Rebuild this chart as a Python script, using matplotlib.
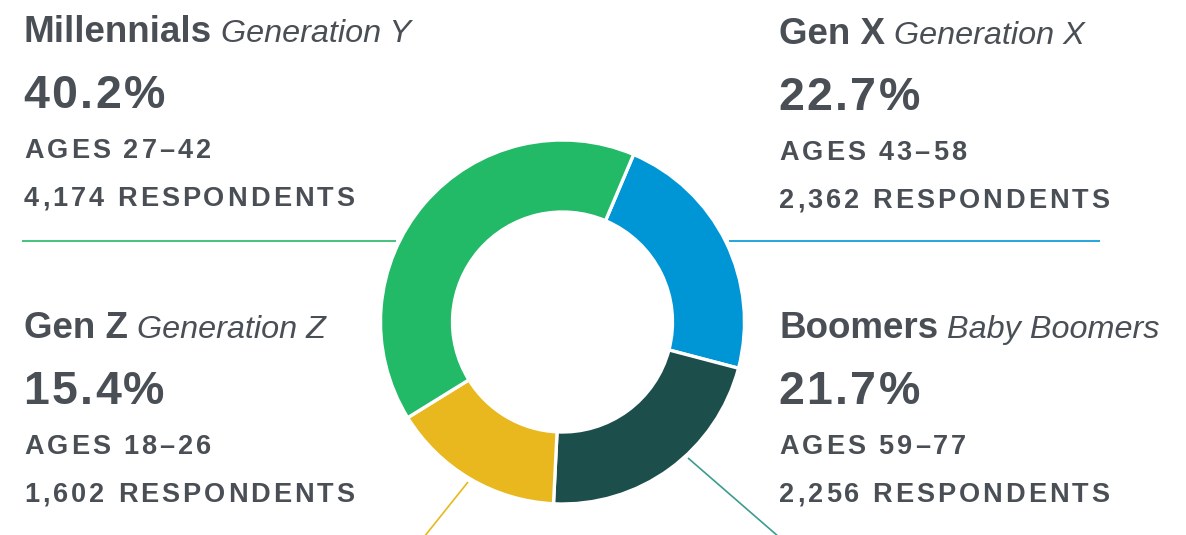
import matplotlib
matplotlib.use('Agg')
import matplotlib.pyplot as plt

# data
groups = ['Gen X', 'Boomers', 'Gen Z', 'Millennials']
subtitles = ['Generation X', 'Baby Boomers', 'Generation Z', 'Generation Y']
shares = [22.7, 21.7, 15.4, 40.2]
ages = ['AGES 43\u201358', 'AGES 59\u201377', 'AGES 18\u201326', 'AGES 27\u201342']
respondents = ['2,362 RESPONDENTS', '2,256 RESPONDENTS', '1,602 RESPONDENTS', '4,174 RESPONDENTS']
colors = ['#0096d6', '#1c4e4b', '#e8b81e', '#22b967']
line_colors = ['#0096d6', '#3d9c90', '#e8b81e', '#22b967']

W, H = 1186, 535
TXT = '#4a4f56'
FONT = 'Liberation Sans'

fig = plt.figure(figsize=(W / 100, H / 100), dpi=100)
ax = fig.add_axes([0, 0, 1, 1])

def Y(y):
    return H - y

# donut
cx, cy = 562.5, 322
ax.pie(shares, radius=182, center=(cx, Y(cy)), startangle=90 - 23, counterclock=False,
       colors=colors, wedgeprops=dict(width=72, edgecolor='white', linewidth=2.4))
ax.set_xlim(0, W)
ax.set_ylim(0, H)
ax.set_aspect('auto')
ax.axis('off')

# leader lines (pixel coords)
leaders = {
    'Millennials': [(22, 241), (396, 241)],
    'Gen X': [(729, 241), (1100, 241)],
    'Gen Z': [(468, 482), (424, 537)],
    'Boomers': [(688, 458), (779, 537)],
}
for g, c in zip(groups, line_colors):
    (x0, y0), (x1, y1) = leaders[g]
    ax.plot([x0, x1], [Y(y0), Y(y1)], color=c, lw=1.2, solid_capstyle='butt')

renderer = fig.canvas.get_renderer()

def width_of(s, **kw):
    t = ax.text(0, 0, s + '|', **kw)
    w1 = t.get_window_extent(renderer).width
    t.remove()
    t = ax.text(0, 0, '|', **kw)
    w2 = t.get_window_extent(renderer).width
    t.remove()
    return w1 - w2

def spaced(x, y, s, spacing, **kw):
    for i, ch in enumerate(s):
        if ch == ' ':
            continue
        xi = x + width_of(s[:i], **kw) + i * spacing
        ax.text(xi, Y(y), ch, va='baseline', ha='left', **kw)

head_kw = dict(fontsize=26.5, fontweight='bold', family=FONT, color=TXT)
sub_kw = dict(fontsize=23.3, style='italic', family=FONT, color=TXT)
pct_kw = dict(fontsize=33.5, fontweight='bold', family=FONT, color=TXT)
cap_kw = dict(fontsize=19.5, fontweight='bold', family=FONT, color=TXT)

blocks = {
    'Millennials': (24, 0),
    'Gen X': (779, 2),
    'Gen Z': (24, 296),
    'Boomers': (779, 296),
}
for g, sub, p, a, r in zip(groups, subtitles, shares, ages, respondents):
    x, dy = blocks[g]
    ax.text(x, Y(42 + dy), g, va='baseline', ha='left', **head_kw)
    wg = width_of(g + ' ', **head_kw)
    ax.text(x + wg - 1, Y(42 + dy), sub, va='baseline', ha='left', **sub_kw)
    spaced(x - 1, 108 + dy, f'{p:.1f}%', 2.5, **pct_kw)
    spaced(x, 158 + dy, a, 3.0, **cap_kw)
    spaced(x, 206 + dy, r, 3.0, **cap_kw)

fig.savefig('out.png', dpi=100, facecolor='white')
